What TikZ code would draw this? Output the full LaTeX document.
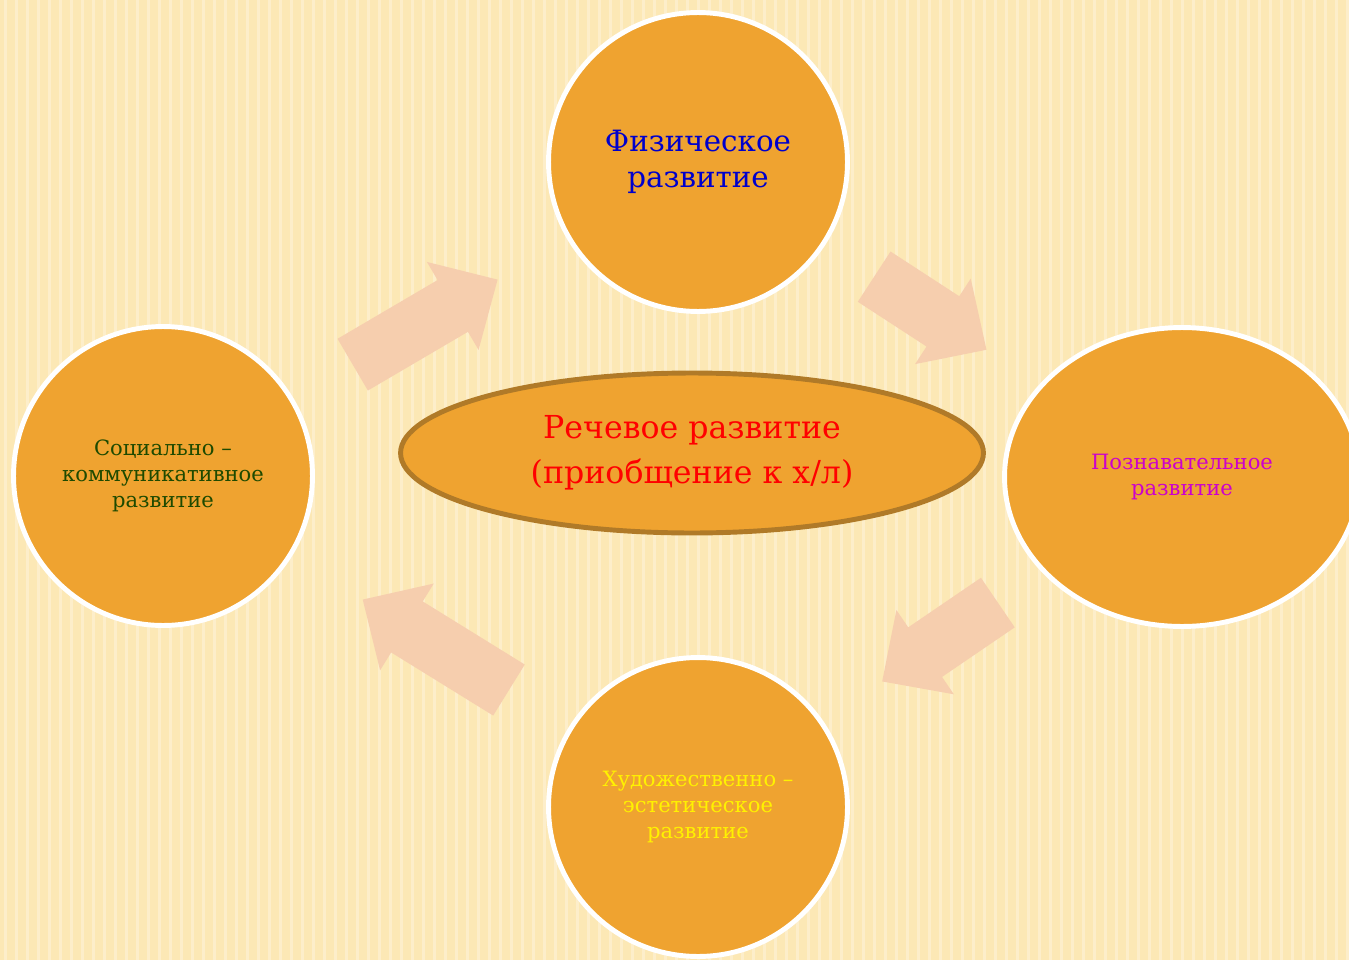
\documentclass[tikz,border=0pt]{standalone}
\usepackage{fontspec}
\setmainfont{DejaVu Serif}
\usetikzlibrary{shapes.geometric}

\definecolor{fon}{HTML}{FCE8B5}
\definecolor{polosa}{HTML}{FDEECA}
\definecolor{oranzh}{HTML}{EFA330}
\definecolor{kant}{HTML}{B07A28}
\definecolor{strelkacolor}{HTML}{F6CEAE}
\definecolor{sinij}{HTML}{0000CC}
\definecolor{zelen}{HTML}{1E4A00}
\definecolor{malin}{HTML}{CC00CC}

\begin{document}
\begin{tikzpicture}[x=0.02cm, y=-0.02cm,
    krug/.style={circle, fill=oranzh, draw=white, line width=2.8pt,
      minimum size=5.98cm, inner sep=0pt, align=center},
    melko/.style={font=\fontsize{12}{14.7}\selectfont},
    strelka/.pic={
      \fill[strelkacolor] (-#1/2,-30) -- (#1/2-52,-30) -- (#1/2-52,-51) -- (#1/2,0)
        -- (#1/2-52,51) -- (#1/2-52,30) -- (-#1/2,30) -- cycle;
    }]
  \useasboundingbox (0,0) rectangle (1349,960);
  \clip (0,0) rectangle (1349,960);
  % background
  \fill[fon] (0,0) rectangle (1349,960);
  \foreach \i in {0,...,122}
    \fill[polosa] (\i*11+4,0) rectangle ++(3,960);

  \node[krug, text=sinij, font=\fontsize{16.7}{20.4}\selectfont] (fiz) at (698,162) {Физическое\\развитие};
  \node[krug, melko, text=zelen] (soc) at (163,476) {Социально --\\коммуникативное\\развитие};
  \node[krug, ellipse, minimum width=7.1cm, melko, text=malin] (poz) at (1182,477) {Познавательное\\развитие};
  \node[krug, melko, text=yellow] (hud) at (698,807) {Художественно --\\эстетическое\\развитие};
  \node[ellipse, fill=oranzh, draw=kant, line width=2.8pt, minimum width=11.66cm,
    minimum height=3.2cm, align=center, text=red,
    font=\fontsize{18}{25.5}\selectfont] (rech) at (692,453) {Речевое развитие\\(приобщение к х/л)};

  % arrows round the ellipse
  \path (soc.center) -- (fiz.center) pic[pos=0.49, sloped, allow upside down]{strelka=168};
  \path (fiz.center) -- (poz.center) pic[pos=0.48, sloped, allow upside down]{strelka=134};
  \path (poz.center) -- (hud.center) pic[pos=0.5, sloped, allow upside down]{strelka=140};
  \path (hud.center) -- (soc.center) pic[pos=0.49, sloped, allow upside down]{strelka=172};
\end{tikzpicture}
\end{document}
